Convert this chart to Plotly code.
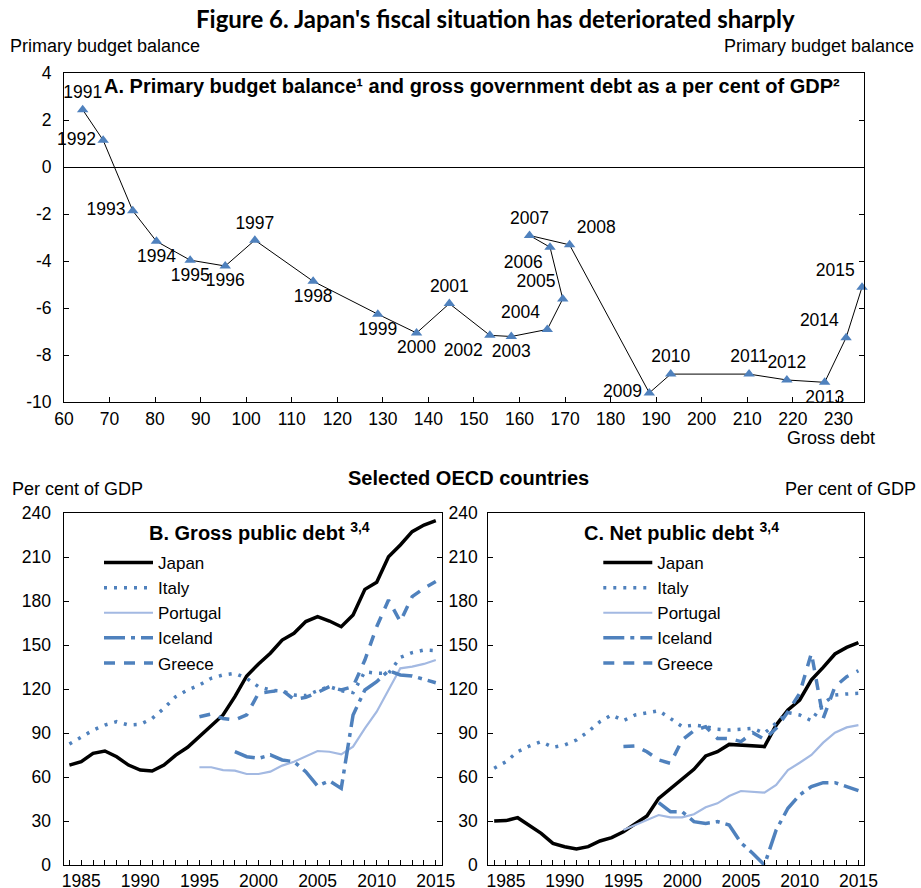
import plotly.graph_objects as go

W, H = 921, 888

# ---------------- Panel A data ----------------
years_a = [1991, 1992, 1993, 1994, 1995, 1996, 1997, 1998, 1999, 2000, 2001, 2002,
           2003, 2004, 2005, 2006, 2007, 2008, 2009, 2010, 2011, 2012, 2013, 2014, 2015]
gross_debt_a = [64.1, 68.6, 75.1, 80.3, 87.7, 95.4, 101.9, 114.7, 128.9, 137.4, 144.6, 153.5,
                158.2, 166.1, 169.5, 166.7, 162.2, 171.0, 188.5, 193.2, 210.4, 218.7, 227.0, 231.7, 235.2]
primary_balance_a = [2.45, 1.15, -1.85, -3.15, -3.95, -4.2, -3.1, -4.85, -6.25, -7.05, -5.8, -7.15,
                     -7.2, -6.9, -5.6, -3.4, -2.9, -3.3, -9.6, -8.8, -8.8, -9.05, -9.15, -7.25, -5.1]
label_pos_a = ["top center", "middle left", "middle left", "bottom center", "bottom center",
               "bottom center", "top center", "bottom center", "bottom center", "bottom center",
               "top center", "bottom left", "bottom center", "top left", "top left", "bottom left",
               "top center", "top right", "middle left", "top center", "top center", "top center",
               "bottom center", "top left", "top left"]
balance_ticks = [4, 2, 0, -2, -4, -6, -8, -10]
balance_tick_text = ["4", "2", "0", "-2", "-4", "-6", "-8", "-10"]

# ---------------- Panels B & C data ----------------
years = list(range(1984, 2016))
years_95 = list(range(1995, 2016))
years_98 = list(range(1998, 2016))

japan_gross = [68.2, 70.5, 76.2, 77.8, 73.9, 68.2, 64.8, 64.1, 68.2, 75.0, 80.3, 87.6, 95.5, 102.4,
               114.9, 129.0, 137.2, 144.5, 153.5, 158.1, 166.1, 169.5, 166.5, 162.6, 170.6, 188.1,
               192.9, 210.4, 218.4, 227.5, 232.0, 235.0]
italy_gross = [82.6, 87.6, 92.0, 95.5, 97.8, 95.5, 96.0, 100.0, 106.9, 114.9, 119.4, 122.8, 127.4,
               129.7, 130.8, 127.4, 121.7, 119.4, 118.7, 116.0, 115.6, 119.0, 121.7, 119.0, 117.6,
               131.9, 130.8, 130.8, 141.7, 144.9, 146.7, 146.3]
portugal_gross = [66.7, 66.7, 64.8, 64.4, 62.1, 62.1, 63.7, 67.8, 70.5, 73.9, 77.8, 77.3, 75.5,
                  80.8, 93.3, 104.6, 119.4, 134.2, 135.4, 137.2, 139.9]
iceland_gross = [77.3, 73.9, 72.8, 75.1, 71.7, 70.5, 63.7, 53.9, 57.5, 52.3, 102.4, 119.4, 125.1,
                 132.6, 129.7, 129.0, 126.7, 124.4]
greece_gross = [101.2, 103.0, 100.0, 99.0, 102.4, 117.2, 118.3, 119.4, 113.0, 114.4, 117.8, 121.7,
                119.4, 121.7, 139.9, 162.6, 180.8, 166.1, 183.1, 188.8, 193.4]

japan_net = [30.0, 30.3, 32.3, 26.6, 21.6, 14.8, 12.5, 10.9, 12.5, 16.4, 18.7, 22.7, 27.8, 33.4,
             45.5, 52.3, 59.1, 65.3, 74.4, 77.3, 82.3, 81.9, 81.2, 80.8, 95.5, 105.8, 112.6, 126.3,
             134.9, 144.0, 148.5, 151.7]
italy_net = [66.0, 70.5, 77.3, 81.2, 84.2, 80.3, 81.9, 85.3, 91.0, 97.8, 102.4, 98.5, 102.4, 104.0,
             105.3, 100.0, 94.4, 95.5, 94.4, 92.6, 92.1, 92.6, 93.3, 89.9, 97.1, 104.0, 102.4, 98.5,
             110.3, 116.0, 116.7, 117.2]
portugal_net = [23.9, 27.3, 31.2, 34.1, 32.5, 32.5, 34.6, 39.4, 42.1, 47.1, 50.5, 50.0, 49.4, 54.6,
                64.8, 69.8, 75.1, 83.5, 90.3, 93.9, 95.5]
iceland_net = [42.5, 36.4, 36.4, 29.6, 28.4, 29.6, 27.3, 15.2, 8.0, 0.0, 23.9, 38.7, 47.8, 53.5,
               56.2, 56.2, 53.5, 50.7]
greece_net = [80.8, 81.2, 77.3, 71.7, 69.4, 85.3, 91.7, 94.4, 86.4, 86.4, 84.2, 90.3, 85.8, 93.3,
              104.6, 117.2, 144.5, 100.1, 121.7, 128.5, 132.6]

countries = ["Japan", "Italy", "Portugal", "Iceland", "Greece"]

# ---------------- styles ----------------
FONT = "Liberation Sans, Arial, sans-serif"
BLUE = "#4F81BD"
LIGHT = "#A3B9E2"
styles = {
    "Japan": dict(color="black", width=3.5, dash="solid"),
    "Italy": dict(color=BLUE, width=3.5, dash="3px,7px"),
    "Portugal": dict(color=LIGHT, width=2.2, dash="solid"),
    "Iceland": dict(color=BLUE, width=3.5, dash="21px,6px,4px,6px"),
    "Greece": dict(color=BLUE, width=3.5, dash="11px,9px"),
}

def px_x(p):
    return p / W

def px_y(p):
    return 1 - p / H

fig = go.Figure()

# Panel A
fig.add_trace(go.Scatter(
    x=gross_debt_a, y=primary_balance_a, text=[str(y) for y in years_a],
    mode="lines+markers+text", textposition=label_pos_a,
    textfont=dict(family=FONT, size=17.5, color="black"),
    line=dict(color="black", width=1),
    marker=dict(symbol="triangle-up", size=10, color=BLUE, line=dict(width=0)),
    cliponaxis=False, showlegend=False, xaxis="x", yaxis="y",
))

gross_series = {"Japan": (years, japan_gross), "Italy": (years, italy_gross),
                "Portugal": (years_95, portugal_gross), "Iceland": (years_98, iceland_gross),
                "Greece": (years_95, greece_gross)}
net_series = {"Japan": (years, japan_net), "Italy": (years, italy_net),
              "Portugal": (years_95, portugal_net), "Iceland": (years_98, iceland_net),
              "Greece": (years_95, greece_net)}

for c in countries:
    xs, ys = gross_series[c]
    fig.add_trace(go.Scatter(x=xs, y=ys, mode="lines", name=c, line=styles[c],
                             xaxis="x2", yaxis="y3", legend="legend"))
for c in countries:
    xs, ys = net_series[c]
    fig.add_trace(go.Scatter(x=xs, y=ys, mode="lines", name=c, line=styles[c],
                             xaxis="x3", yaxis="y4", legend="legend2"))

tickfont = dict(family=FONT, size=17.5, color="black")
axis_common = dict(showline=True, linecolor="black", linewidth=1, showgrid=False,
                   zeroline=False, ticks="inside", ticklen=5, tickcolor="black",
                   tickfont=tickfont, automargin=False)
label_only = dict(showline=False, showgrid=False, zeroline=False, ticks="",
                  tickfont=tickfont, automargin=False)

# Panel A axes
dom_ax = [px_x(64), px_x(864.3)]
dom_ay = [px_y(402.3), px_y(73.3)]
fig.update_layout(
    xaxis=dict(domain=dom_ax, range=[60, 235.7], tick0=60, dtick=10, mirror=True,
               anchor="y", ticklabelstandoff=1, **axis_common),
    yaxis=dict(domain=dom_ay, range=[-10, 4], tickvals=balance_ticks, ticktext=balance_tick_text,
               mirror="ticks", anchor="x", ticklabelstandoff=8,
               **{**axis_common, "zeroline": True}, zerolinecolor="black", zerolinewidth=1),
    yaxis2=dict(domain=dom_ay, range=[-10, 4], tickvals=balance_ticks, ticktext=balance_tick_text,
                overlaying="y", side="right", anchor="x", ticklabelstandoff=9, **label_only),
)

dom_by = [px_y(865), px_y(513.3)]
minor = dict(dtick=1, ticks="inside", ticklen=5, tickcolor="black")
for xa, ya, dom in (("xaxis2", "y3", [px_x(63.5), px_x(441.7)]),
                    ("xaxis3", "y4", [px_x(488.3), px_x(864.3)])):
    fig.update_layout({xa: dict(domain=dom, range=[1983.5, 2015.5], tick0=1985, dtick=5,
                                minor=minor, mirror=True, anchor=ya, ticklabelstandoff=0,
                                **axis_common)})
fig.update_layout(
    yaxis3=dict(domain=dom_by, range=[0, 240], tick0=0, dtick=30, mirror="ticks", anchor="x2",
                ticklabelstandoff=8, **axis_common),
    yaxis4=dict(domain=dom_by, range=[0, 240], tick0=0, dtick=30, mirror="ticks", anchor="x3",
                ticklabelstandoff=6, **axis_common),
    yaxis5=dict(domain=dom_by, range=[0, 240], tick0=0, dtick=30, overlaying="y4", side="right",
                anchor="x3", ticklabelstandoff=10, **label_only),
)

legend_common = dict(font=dict(family=FONT, size=17, color="black"), bgcolor="rgba(0,0,0,0)",
                     borderwidth=0, xanchor="left", yanchor="top", itemwidth=49,
                     tracegroupgap=0)
fig.update_layout(
    legend=dict(x=px_x(99), y=px_y(545), **legend_common),
    legend2=dict(x=px_x(598.3), y=px_y(545), **legend_common),
)

# Text annotations
def ann(text, x, y, size, xanchor="left", bold=False, family=FONT):
    t = f"<b>{text}</b>" if bold else text
    fig.add_annotation(text=t, x=px_x(x), y=px_y(y), xref="paper", yref="paper",
                       xanchor=xanchor, yanchor="middle", showarrow=False,
                       font=dict(family=family, size=size, color="black"))

ann("Figure 6. Japan's fiscal situation has deteriorated sharply", 495.5, 19, 24,
    xanchor="center", bold=True, family="Lato, Carlito, sans-serif")
ann("Primary budget balance", 8, 46, 18)
ann("Primary budget balance", 916, 46, 18, xanchor="right")
ann("A. Primary budget balance¹ and gross government debt as a per cent of GDP²", 102, 86, 20,
    bold=True)
ann("Gross debt", 785, 438, 18)
ann("Selected OECD countries", 468.5, 478, 20, xanchor="center", bold=True)
ann("Per cent of GDP", 10, 489, 18)
ann("Per cent of GDP", 918, 489, 18, xanchor="right")
ann("B. Gross public debt <sup>3,4</sup>", 146.5, 531, 20, bold=True)
ann("C. Net public debt <sup>3,4</sup>", 581.5, 531, 20, bold=True)

fig.update_layout(width=W, height=H, margin=dict(l=0, r=0, t=0, b=0),
                  paper_bgcolor="white", plot_bgcolor="white",
                  font=dict(family=FONT, color="black"))

# remove the page's default body margin so the figure fills the 921x888 window exactly
fig.write_html("out.html", config={"displayModeBar": False},
               post_script="document.body.style.margin='0';document.body.style.overflow='hidden';")
